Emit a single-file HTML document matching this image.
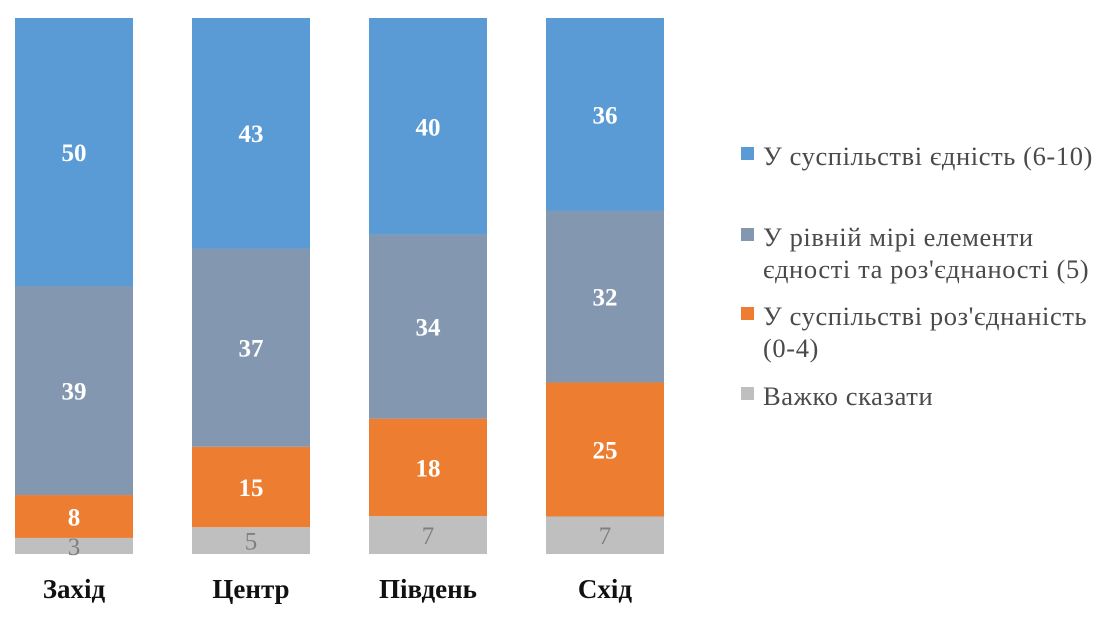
<!DOCTYPE html>
<html><head><meta charset="utf-8"><style>
body{margin:0;background:#fff;}
svg{display:block;font-family:"Liberation Serif",serif;}
</style></head><body>
<svg id="chart" width="1119" height="620"></svg>
<script>
const categories=["Захід","Центр","Південь","Схід"];
const unity=[50,43,40,36];
const mixed=[39,37,34,32];
const disunity=[8,15,18,25];
const hard=[3,5,7,7];
const seriesNames=["У суспільстві єдність (6-10)","У рівній мірі елементи єдності та роз'єднаності (5)","У суспільстві роз'єднаність (0-4)","Важко сказати"];
const NS="http://www.w3.org/2000/svg";
const svg=document.getElementById('chart');
const top0=18,bottom0=554,barW=118,x0=15,step=177;
function xPos(i){return x0+i*step;}
function mk(t,a){const e=document.createElementNS(NS,t);for(const k in a)e.setAttribute(k,a[k]);svg.appendChild(e);return e;}
const stack=[
 {vals:hard,color:"#BFBFBF",txt:"#7F7F7F",bold:false,key:"hard"},
 {vals:disunity,color:"#ED7D31",txt:"#fff",bold:true,key:"disunity"},
 {vals:mixed,color:"#8497B0",txt:"#fff",bold:true,key:"mixed"},
 {vals:unity,color:"#5B9BD5",txt:"#fff",bold:true,key:"unity"}
];
categories.forEach((c,i)=>{
 const total=stack.reduce((s,st)=>s+st.vals[i],0);
 const scale=v=>v/total*(bottom0-top0);
 let y=bottom0;
 stack.forEach(st=>{
  const h=scale(st.vals[i]);
  const r=mk('rect',{x:xPos(i),y:y-h,width:barW,height:h,fill:st.color});
  
  
  const t=mk('text',{x:xPos(i)+barW/2,y:y-h/2+9,'text-anchor':'middle','font-size':'25','font-weight':st.bold?'bold':'normal',fill:st.txt});
  t.textContent=st.vals[i];
  
  
  y-=h;
 });
 const l=mk('text',{x:xPos(i)+barW/2,y:598,'text-anchor':'middle','font-size':'27','font-weight':'bold',fill:'#111'});
 l.textContent=c;
 
 
});
const legend=[
 {color:"#5B9BD5",lines:[seriesNames[0]],y:157},
 {color:"#8497B0",lines:["У рівній мірі елементи","єдності та роз'єднаності (5)"],y:238},
 {color:"#ED7D31",lines:["У суспільстві роз'єднаність","(0-4)"],y:317},
 {color:"#BFBFBF",lines:[seriesNames[3]],y:397}
];
legend.forEach((lg,k)=>{
 const s=mk('rect',{x:741,y:lg.y-10,width:13,height:13,fill:lg.color});
 
 
 lg.lines.forEach((ln,j)=>{
  const t=mk('text',{x:763,y:lg.y+8+j*32,'font-size':'26.5','letter-spacing':'0.6',fill:'#4a4a4a'});
  t.textContent=ln;
  
  
 });
});
</script>
</body></html>
